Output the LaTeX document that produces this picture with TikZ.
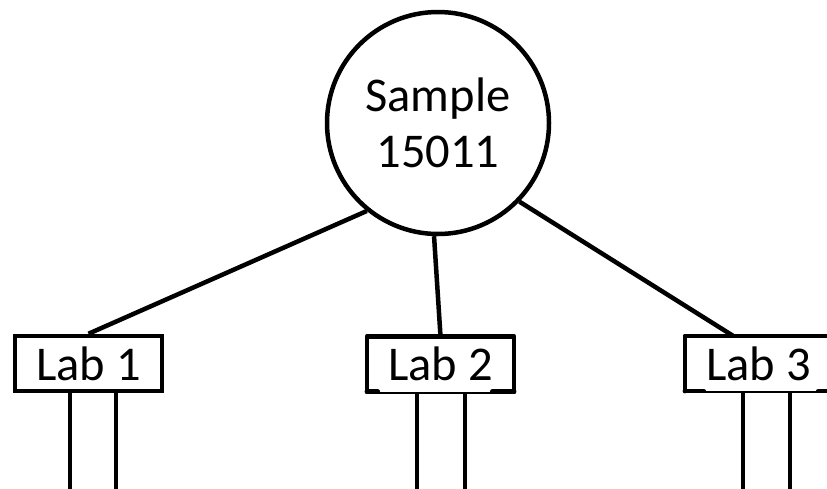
\documentclass[tikz,border=0pt]{standalone}
\usepackage{fontspec}
\setmainfont{Carlito}
\begin{document}
\begin{tikzpicture}[x=1pt,y=-1pt,
  thickline/.style={line width=4.5pt},
  samplenode/.style={circle,draw,line width=4.5pt,minimum size=222pt,inner sep=0pt,align=center,font=\fontsize{48.5}{56}\selectfont},
  labbox/.style={rectangle,minimum width=147pt,minimum height=55pt,inner sep=0pt,font=\fontsize{48.5}{56}\selectfont},
  labframe/.style={line width=4.5pt,line join=round,line cap=round},
  thinbottom/.style={line width=1.8pt}]
\useasboundingbox (0,0) rectangle (827,488);
\clip (0,0) rectangle (827,488);
\node[samplenode] (s) at (438,123) {Sample\\15011};
\node[labbox,draw,line width=4.5pt] (l1) at (88.5,363.5) {Lab 1};
\node[labbox] (l2) at (440.5,364) {Lab 2};
\node[labbox] (l3) at (758.5,363.5) {Lab 3};
% frames of Lab 2 and Lab 3 (thin middle of bottom edge)
\foreach \b/\wl/\wr in {l2/11/22, l3/19/14} {
  \draw[labframe] (\b.south west) -- (\b.north west) -- (\b.north east) -- (\b.south east);
  \draw[labframe] (\b.south west) -- ++(\wl,0);
  \draw[labframe] (\b.south east) -- ++(-\wr,0);
  \draw[thinbottom] ([yshift=-1pt]\b.south west) -- ([yshift=-1pt]\b.south east);
}
% connectors
\draw[thickline] (s.231) -- (l1.north);
\draw[thickline] (s.268) -- (l2.north);
\draw[thickline] (s.316) -- ([xshift=-25.5pt]l3.north);
% legs
\coordinate (a1) at (70,490);
\coordinate (b1) at (116,490);
\coordinate (a2) at (417,490);
\coordinate (b2) at (465,490);
\coordinate (a3) at (743,490);
\coordinate (b3) at (790,490);
\foreach \b/\p/\q in {l1/a1/b1, l2/a2/b2, l3/a3/b3} {
  \draw[thickline] (\b.south -| \p) -- (\p);
  \draw[thickline] (\b.south -| \q) -- (\q);
}
\end{tikzpicture}
\end{document}
